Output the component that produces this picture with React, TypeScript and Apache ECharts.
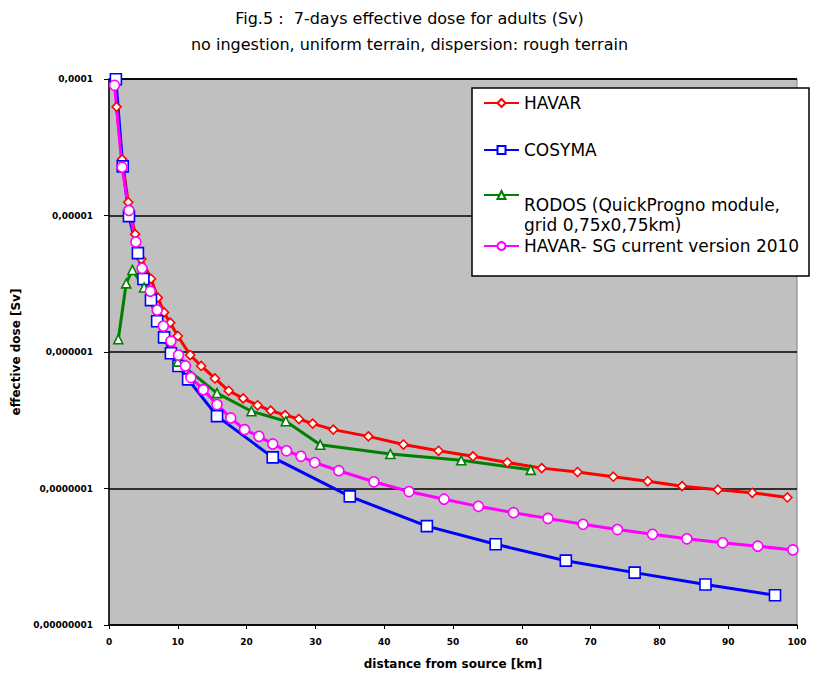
import React, { useEffect, useRef } from "react";
import * as echarts from "echarts";

// ---- data ----
const seriesNames = [
  "HAVAR",
  "COSYMA",
  "RODOS (QuickProgno module,\ngrid 0,75x0,75km)",
  "HAVAR- SG current version 2010",
];

const havarX = [1.1, 1.9, 2.8, 3.8, 4.7, 6.1, 7.1, 8.0, 8.9, 10.0, 11.8, 13.4, 15.4, 17.4, 19.5, 21.6, 23.5, 25.6, 27.6, 29.6, 32.6, 37.7, 42.8, 47.9, 52.9, 57.9, 62.9, 68.1, 73.3, 78.3, 83.3, 88.5, 93.5, 98.6];
const havarY = [6.25e-5, 2.58e-5, 1.25e-5, 7.3e-6, 4.8e-6, 3.44e-6, 2.5e-6, 1.95e-6, 1.64e-6, 1.31e-6, 9.5e-7, 7.9e-7, 6.4e-7, 5.2e-7, 4.57e-7, 4.07e-7, 3.72e-7, 3.45e-7, 3.23e-7, 2.99e-7, 2.7e-7, 2.41e-7, 2.1e-7, 1.89e-7, 1.72e-7, 1.55e-7, 1.41e-7, 1.32e-7, 1.22e-7, 1.13e-7, 1.04e-7, 9.8e-8, 9.3e-8, 8.6e-8];

const cosymaX = [1.0, 2.0, 2.9, 4.2, 5.0, 6.1, 7.0, 8.0, 9.0, 10.1, 11.5, 15.7, 23.8, 35.0, 46.2, 56.2, 66.4, 76.4, 86.7, 96.8];
const cosymaY = [9.95e-5, 2.29e-5, 9.9e-6, 5.3e-6, 3.43e-6, 2.4e-6, 1.68e-6, 1.28e-6, 9.8e-7, 7.9e-7, 6.3e-7, 3.39e-7, 1.69e-7, 8.75e-8, 5.3e-8, 3.9e-8, 2.96e-8, 2.42e-8, 1.98e-8, 1.65e-8];

const rodosX = [1.35, 2.5, 3.4, 5.1, 10.0, 15.7, 20.7, 25.7, 30.7, 40.9, 51.2, 61.3];
const rodosY = [1.24e-6, 3.18e-6, 3.99e-6, 2.97e-6, 8.5e-7, 5.0e-7, 3.68e-7, 3.11e-7, 2.09e-7, 1.79e-7, 1.61e-7, 1.37e-7];

const havarSgX = [0.8, 1.9, 2.9, 3.9, 4.8, 6.0, 7.0, 7.9, 9.0, 10.1, 11.1, 11.9, 13.7, 15.7, 17.7, 19.7, 21.8, 23.8, 25.8, 27.9, 29.9, 33.4, 38.5, 43.6, 48.7, 53.7, 58.8, 63.8, 68.9, 73.9, 79.0, 84.0, 89.2, 94.3, 99.4];
const havarSgY = [9.0e-5, 2.26e-5, 1.09e-5, 6.4e-6, 4.1e-6, 2.79e-6, 2.03e-6, 1.55e-6, 1.2e-6, 9.5e-7, 7.9e-7, 6.5e-7, 5.3e-7, 4.12e-7, 3.29e-7, 2.7e-7, 2.41e-7, 2.12e-7, 1.89e-7, 1.72e-7, 1.55e-7, 1.35e-7, 1.12e-7, 9.5e-8, 8.35e-8, 7.4e-8, 6.65e-8, 6.04e-8, 5.47e-8, 5.0e-8, 4.62e-8, 4.28e-8, 4.0e-8, 3.78e-8, 3.55e-8];

const yTickLabels = ["0,00000001", "0,0000001", "0,000001", "0,00001", "0,0001"];

const titleText = "Fig.5 :  7-days effective dose for adults (Sv)";
const subtitleText = "no ingestion, uniform terrain, dispersion: rough terrain";
const xAxisName = "distance from source [km]";
const yAxisName = "effective dose [Sv]";

const FONT = "DejaVu Sans";

function pairs(xs: number[], ys: number[]) {
  return xs.map((x, i) => [x, ys[i]]);
}

export default function App() {
  const ref = useRef<HTMLDivElement>(null);

  useEffect(() => {
    if (!ref.current) return;
    const chart = echarts.init(ref.current, null, { renderer: "svg" });

    const legendBase: any = {
      orient: "vertical",
      left: 483,
      itemWidth: 35,
      itemHeight: 10,
      itemGap: 0,
      padding: 0,
      selectedMode: false,
      z: 6,
      textStyle: { fontFamily: FONT, fontSize: 17, color: "#000", lineHeight: 18 },
    };

    const mkSeries = (name: string, data: number[][], color: string, symbol: string, size: number) => ({
      name,
      type: "line",
      data,
      clip: false,
      symbol,
      symbolSize: size,
      showAllSymbol: true,
      lineStyle: { color, width: 3 },
      itemStyle: { color: "#ffffff", borderColor: color, borderWidth: 1.6 },
      emphasis: { disabled: true },
      z: 3,
    });

    chart.setOption({
      animation: false,
      backgroundColor: "#ffffff",
      title: {
        text: titleText,
        subtext: subtitleText,
        left: "center",
        top: 8,
        itemGap: 6,
        padding: 0,
        textStyle: { fontFamily: FONT, fontSize: 16, fontWeight: "normal", color: "#000", lineHeight: 20 },
        subtextStyle: { fontFamily: FONT, fontSize: 16, fontWeight: "normal", color: "#000", lineHeight: 20 },
      },
      grid: {
        left: 109,
        right: 22,
        top: 79,
        bottom: 50,
        show: true,
        backgroundColor: "#c0c0c0",
        borderColor: "#808080",
        borderWidth: 1,
      },
      xAxis: {
        type: "value",
        min: 0,
        max: 100,
        interval: 10,
        name: xAxisName,
        nameLocation: "middle",
        nameGap: 33,
        nameTextStyle: { fontFamily: FONT, fontSize: 12, fontWeight: "bold", color: "#000" },
        axisLine: { show: true, lineStyle: { color: "#000", width: 1.5 } },
        axisTick: { show: true, length: 4, lineStyle: { color: "#000" } },
        axisLabel: { fontFamily: FONT, fontSize: 9, fontWeight: "bold", color: "#000", margin: 12 },
        splitLine: { show: false },
      },
      yAxis: {
        type: "log",
        logBase: 10,
        min: 1e-8,
        max: 1e-4,
        name: yAxisName,
        nameLocation: "middle",
        nameGap: 84,
        nameTextStyle: { fontFamily: FONT, fontSize: 12, fontWeight: "bold", color: "#000" },
        axisLine: { show: true, lineStyle: { color: "#000", width: 1.5 } },
        axisTick: { show: true, length: 5, lineStyle: { color: "#000" } },
        axisLabel: {
          fontFamily: FONT,
          fontSize: 9,
          fontWeight: "bold",
          color: "#000",
          margin: 16,
          formatter: (v: number, i: number) => {
            const k = Math.round(Math.log10(v)) + 8;
            return yTickLabels[k] ?? yTickLabels[i] ?? "";
          },
        },
        splitLine: { show: true, lineStyle: { color: "#000", width: 1.5 } },
        minorTick: { show: false },
      },
      legend: [
        { ...legendBase, top: 94, data: [seriesNames[0]] },
        { ...legendBase, top: 141, data: [seriesNames[1]] },
        {
          ...legendBase,
          top: 155,
          textStyle: { fontFamily: FONT, fontSize: 17, color: "#000", lineHeight: 20 },
          formatter: (name: string) => "\n\n" + name,
          data: [seriesNames[2]],
        },
        { ...legendBase, top: 237, data: [seriesNames[3]] },
      ],
      graphic: {
        elements: [
          {
            type: "rect",
            z: 5,
            shape: { x: 472, y: 88, width: 337, height: 188 },
            style: { fill: "#ffffff", stroke: "#000000", lineWidth: 1.5 },
          },
        ],
      },
      series: [
        mkSeries(seriesNames[0], pairs(havarX, havarY), "#ff0000", "diamond", 9),
        mkSeries(seriesNames[1], pairs(cosymaX, cosymaY), "#0000ff", "rect", 11),
        mkSeries(seriesNames[2], pairs(rodosX, rodosY), "#008000", "triangle", 9),
        mkSeries(seriesNames[3], pairs(havarSgX, havarSgY), "#ff00ff", "circle", 10),
      ],
    });

    return () => chart.dispose();
  }, []);

  return (
    <div
      ref={ref}
      style={{ position: "fixed", left: 0, top: 0, width: 819, height: 675, background: "#fff" }}
    />
  );
}
